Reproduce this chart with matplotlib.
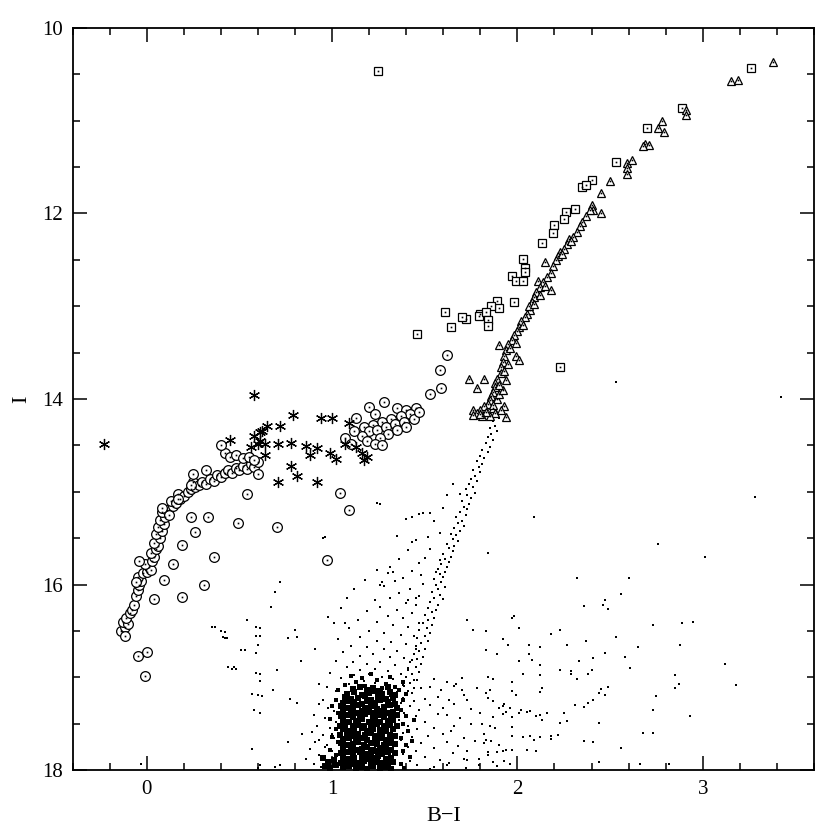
import matplotlib
matplotlib.use('Agg')
import matplotlib.pyplot as plt
from matplotlib.ticker import MultipleLocator

# Horizontal branch (circles)
hb_x = [-0.14, -0.12, -0.13, -0.10, -0.11, -0.09, -0.12, -0.08, -0.07, -0.06, -0.05, -0.04, -0.03, -0.05,
        -0.02, 0.00, 0.01, 0.02, -0.01, 0.03, 0.04, 0.02, 0.05, 0.06, 0.04, 0.07, 0.05, 0.08, 0.06, 0.09,
        0.07, 0.10, 0.08, 0.11, 0.12, 0.14, 0.13, 0.16, 0.18, 0.17, 0.20, 0.22, 0.24, 0.26, 0.25, 0.28,
        0.30, 0.32, 0.34, 0.36, 0.38, 0.40, 0.42, 0.44, 0.46, 0.48, 0.50, 0.52, 0.54, 0.56, 0.58, 0.60,
        0.42, 0.45, 0.48, 0.52, 0.55, 0.58,
        0.40, 0.25, 0.24, 0.32, 0.60, 0.54, 0.08, 0.17, 0.24, 0.33, 0.49, 0.26, 0.19, 0.36, 0.31, 0.19,
        0.04, -0.05, 0.00, -0.01, 0.70, 0.97, 1.04, 1.09, -0.04, -0.06, 0.14, 0.09,
        1.28, 1.20, 1.23, 1.13, 1.35, 1.40, 1.45, 1.42, 1.37, 1.32, 1.27, 1.22, 1.17, 1.20, 1.24, 1.29,
        1.34, 1.39, 1.44, 1.30, 1.26, 1.16, 1.19, 1.23, 1.27, 1.40, 1.35, 1.47, 1.12, 1.07, 1.10,
        1.62, 1.58, 1.59, 1.53]
hb_y = [16.50, 16.46, 16.40, 16.43, 16.36, 16.31, 16.55, 16.27, 16.22, 16.12, 16.06, 16.01, 15.96, 15.92,
        15.88, 15.86, 15.81, 15.84, 15.78, 15.75, 15.70, 15.66, 15.62, 15.58, 15.55, 15.50, 15.46, 15.42,
        15.38, 15.35, 15.30, 15.27, 15.22, 15.20, 15.25, 15.15, 15.10, 15.12, 15.08, 15.02, 15.05, 15.00,
        14.97, 14.95, 14.90, 14.93, 14.90, 14.92, 14.86, 14.88, 14.82, 14.84, 14.80, 14.77, 14.80, 14.74,
        14.77, 14.72, 14.75, 14.70, 14.73, 14.68,
        14.58, 14.62, 14.60, 14.64, 14.62, 14.66,
        14.50, 14.81, 14.93, 14.77, 14.81, 15.02, 15.17, 15.08, 15.27, 15.27, 15.34, 15.43, 15.57, 15.70,
        16.00, 16.13, 16.16, 16.77, 16.73, 16.99, 15.38, 15.74, 15.01, 15.20, 15.75, 15.97, 15.78, 15.95,
        14.03, 14.09, 14.16, 14.20, 14.10, 14.12, 14.10, 14.16, 14.18, 14.22, 14.25, 14.28, 14.30, 14.35,
        14.33, 14.30, 14.27, 14.25, 14.22, 14.38, 14.42, 14.40, 14.45, 14.48, 14.50, 14.30, 14.33, 14.14,
        14.35, 14.42, 14.48,
        13.53, 13.69, 13.88, 13.95]

# Variables (asterisks)
var_x = [-0.23, 0.58, 0.45, 0.62, 0.79, 0.94, 1.00, 0.65, 0.72, 0.61, 0.60, 0.64, 0.71, 0.78, 0.86, 0.92,
         0.88, 0.64, 0.99, 1.02, 0.78, 0.81, 0.71, 0.92, 1.09, 1.07, 1.13, 1.16, 1.19, 1.17, 0.58, 0.61, 0.56]
var_y = [14.48, 13.96, 14.44, 14.34, 14.17, 14.20, 14.20, 14.29, 14.29, 14.36, 14.48, 14.48, 14.48, 14.47,
         14.51, 14.53, 14.60, 14.60, 14.58, 14.65, 14.72, 14.83, 14.89, 14.89, 14.26, 14.48, 14.52, 14.58,
         14.62, 14.66, 14.40, 14.45, 14.52]

# AGB (squares)
agb_x = [1.25, 3.26, 2.89, 2.70, 2.53, 2.35, 2.40, 2.37, 2.31, 2.26, 2.25, 2.20, 2.19, 2.13, 2.03, 2.04,
         2.04, 1.97, 1.99, 2.03, 1.98, 1.89, 1.90, 1.86, 1.61, 1.72, 1.70, 1.80, 1.79, 1.83, 1.84, 1.84,
         1.64, 1.46, 2.23]
agb_y = [10.46, 10.43, 10.86, 11.08, 11.45, 11.71, 11.64, 11.69, 11.95, 11.98, 12.06, 12.12, 12.21, 12.32,
         12.49, 12.59, 12.63, 12.67, 12.73, 12.73, 12.95, 12.94, 13.02, 13.00, 13.06, 13.14, 13.12, 13.08,
         13.11, 13.06, 13.15, 13.21, 13.22, 13.30, 13.66]

# RGB (triangles)
rgb_x = [3.38, 3.15, 3.19, 2.91, 2.91, 2.78, 2.76, 2.79, 2.69, 2.71, 2.68, 2.59, 2.62, 2.59, 2.59, 2.50,
         2.45, 2.40, 2.41, 2.39, 2.45, 2.37, 2.35, 2.34, 2.32, 2.30, 2.28, 2.27, 2.25, 2.23, 2.22, 2.21,
         2.15, 2.19, 2.18, 2.16, 2.11, 2.14, 2.18, 2.12, 2.10, 2.09, 2.08, 2.07, 2.05, 2.04, 2.02, 2.01,
         2.00, 1.98, 1.97, 1.95, 1.90, 1.94, 1.93, 1.99, 2.01, 1.92, 1.91, 1.91, 1.89, 1.74, 1.82, 1.78,
         1.88, 1.88, 1.87, 1.86, 1.85, 1.93, 1.84, 1.82, 1.80, 1.76, 1.78, 1.76, 1.94, 1.87, 1.89, 1.90,
         1.92, 1.94, 1.88, 1.85, 2.06, 2.03, 1.99, 1.96, 1.95, 1.93, 1.90, 1.87, 1.83, 1.81, 1.91, 2.09,
         2.12, 2.15, 2.24, 2.29, 1.80]
rgb_y = [10.37, 10.57, 10.56, 10.88, 10.94, 11.00, 11.08, 11.12, 11.25, 11.26, 11.27, 11.46, 11.42, 11.51,
         11.57, 11.65, 11.78, 11.91, 11.96, 11.96, 12.00, 12.03, 12.09, 12.14, 12.20, 12.25, 12.28, 12.33,
         12.38, 12.41, 12.46, 12.50, 12.52, 12.57, 12.64, 12.68, 12.73, 12.74, 12.82, 12.79, 12.85, 12.90,
         12.95, 13.04, 13.08, 13.12, 13.16, 13.22, 13.27, 13.31, 13.36, 13.41, 13.42, 13.47, 13.54, 13.54,
         13.58, 13.60, 13.66, 13.72, 13.78, 13.78, 13.78, 13.88, 13.83, 13.87, 13.92, 13.97, 14.01, 14.08,
         14.05, 14.08, 14.12, 14.12, 14.15, 14.17, 14.19, 14.10, 14.00, 13.95, 13.90, 13.80, 14.15, 14.18,
         13.00, 13.20, 13.40, 13.45, 13.62, 13.70, 13.85, 14.06, 14.14, 14.18, 14.12, 12.98, 12.88, 12.78,
         12.44, 12.30, 14.16]

# Faint giant branch (dots)
tail_x = [1.90, 1.87, 1.88, 1.85, 1.89, 1.86, 1.84, 1.87, 1.83, 1.85, 1.81, 1.84, 1.80, 1.82, 1.78, 1.81,
          1.79, 1.76, 1.80, 1.77, 1.75, 1.78, 1.74, 1.76, 1.72, 1.77, 1.73, 1.75, 1.70, 1.74, 1.71, 1.73,
          1.69, 1.72, 1.67, 1.70, 1.68, 1.71, 1.66, 1.69, 1.64, 1.67, 1.65, 1.68, 1.62, 1.66, 1.63, 1.65,
          1.60, 1.64, 1.61, 1.63, 1.59, 1.62, 1.57, 1.61, 1.58, 1.60, 1.55, 1.59, 1.56, 1.61, 1.57, 1.54,
          1.58, 1.55, 1.60, 1.53, 1.57, 1.52, 1.56, 1.54, 1.50, 1.55, 1.52, 1.49, 1.54, 1.51, 1.47, 1.53,
          1.50, 1.46, 1.52, 1.48, 1.45, 1.50, 1.47, 1.44, 1.49, 1.46, 1.42, 1.48, 1.45, 1.41, 1.47, 1.43,
          1.40, 1.46, 1.42, 1.39, 1.44, 1.41,
          1.62, 1.60, 1.55, 1.58, 1.52, 1.53, 1.50, 1.58, 1.56, 1.48, 1.65, 1.69]
tail_y = [14.21, 14.24, 14.29, 14.31, 14.34, 14.38, 14.41, 14.44, 14.47, 14.52, 14.55, 14.57, 14.61, 14.64,
          14.67, 14.70, 14.73, 14.76, 14.79, 14.83, 14.86, 14.88, 14.92, 14.95, 14.97, 15.01, 15.04, 15.07,
          15.10, 15.13, 15.16, 15.19, 15.22, 15.25, 15.27, 15.31, 15.34, 15.37, 15.39, 15.42, 15.45, 15.47,
          15.51, 15.53, 15.56, 15.59, 15.61, 15.64, 15.67, 15.70, 15.72, 15.76, 15.78, 15.81, 15.83, 15.86,
          15.89, 15.92, 15.94, 15.97, 16.00, 16.03, 16.05, 16.08, 16.11, 16.14, 16.16, 16.19, 16.22, 16.25,
          16.27, 16.30, 16.33, 16.36, 16.38, 16.41, 16.44, 16.47, 16.49, 16.52, 16.55, 16.58, 16.61, 16.63,
          16.66, 16.69, 16.72, 16.75, 16.78, 16.80, 16.83, 16.86, 16.89, 16.92, 16.94, 16.97, 17.00, 17.03,
          17.06, 17.09, 17.12, 17.15,
          15.04, 15.18, 15.31, 15.44, 15.49, 15.62, 15.71, 15.74, 15.86, 15.90, 14.92, 15.02]

# Subgiant spread above the turnoff
sgb_x = [1.45, 1.41, 1.36, 1.47, 1.31, 1.43, 1.38, 1.34, 1.49, 1.28, 1.42, 1.36, 1.47, 1.31, 1.23, 1.40,
         1.45, 1.26, 1.35, 1.19, 1.43, 1.30, 1.38, 1.14, 1.24, 1.47, 1.33, 1.41, 1.09, 1.20, 1.28, 1.37,
         1.44, 1.15, 1.03, 1.24, 1.32, 1.40, 1.10, 1.19, 1.45, 1.28, 1.35, 1.06, 1.22, 1.15, 1.31, 1.39,
         1.43, 1.02, 1.11, 1.26, 1.19, 1.34, 1.08, 1.41, 1.23, 1.15, 1.30, 0.99, 1.37, 1.20, 1.12, 1.27,
         1.05, 1.33, 1.44, 1.17, 1.23, 1.09, 1.38, 1.30, 0.97, 1.14, 1.48, 1.26, 1.02, 1.35, 1.43, 1.20,
         1.08, 1.31, 1.38, 1.50, 0.95, 1.44, 1.12, 1.05, 1.18, 0.98, 1.08]
sgb_y = [15.52, 15.63, 15.72, 15.77, 15.81, 15.85, 15.93, 15.96, 15.99, 16.02, 16.05, 16.09, 16.12, 16.14,
         16.17, 16.20, 16.22, 16.24, 16.27, 16.29, 16.31, 16.34, 16.36, 16.38, 16.40, 16.42, 16.44, 16.46,
         16.47, 16.50, 16.52, 16.54, 16.56, 16.57, 16.59, 16.61, 16.62, 16.64, 16.66, 16.67, 16.69, 16.70,
         16.72, 16.73, 16.75, 16.77, 16.78, 16.79, 16.81, 16.82, 16.83, 16.84, 16.86, 16.87, 16.89, 16.90,
         16.91, 16.92, 16.93, 16.95, 16.96, 16.97, 16.98, 17.00, 17.01, 17.02, 17.03, 17.04, 17.06, 17.07,
         17.08, 17.09, 17.10, 17.11, 17.12, 17.13, 17.15, 17.16, 17.17, 17.18, 17.19, 17.20, 17.22, 17.23,
         17.24, 17.26, 16.05, 16.25, 15.95, 16.35, 16.15]

# Looser dots around the turnoff core
wing_x = [0.93, 0.98, 1.01, 0.90, 0.96, 1.02, 0.92, 0.99, 0.89, 0.95, 1.01, 0.91, 0.97, 0.88, 1.00, 0.93,
          0.86, 0.98, 0.90, 0.94,
          1.37, 1.42, 1.47, 1.53, 1.39, 1.45, 1.57, 1.36, 1.50, 1.41, 1.46, 1.55, 1.38, 1.43, 1.52, 1.60,
          1.37, 1.48, 1.41, 1.55, 1.45, 1.38, 1.50, 1.42, 1.58, 1.46, 1.39, 1.53,
          1.55, 1.62, 1.70, 1.53, 1.59, 1.66, 1.78, 1.57, 1.63, 1.71, 1.84, 1.60, 1.66, 1.75, 1.92, 1.62,
          1.69, 1.80, 1.66, 1.75, 1.88, 1.64, 1.71, 1.82, 1.97, 1.62, 1.68, 1.77, 1.90, 1.65, 1.73, 1.84,
          1.63, 1.71, 1.79, 1.93]
wing_y = [17.29, 17.33, 17.36, 17.41, 17.44, 17.48, 17.52, 17.55, 17.59, 17.62, 17.66, 17.70, 17.73, 17.77,
          17.80, 17.84, 17.88, 17.90, 17.94, 17.97,
          17.28, 17.31, 17.35, 17.30, 17.38, 17.42, 17.40, 17.46, 17.48, 17.52, 17.56, 17.55, 17.60, 17.64,
          17.63, 17.61, 17.68, 17.71, 17.75, 17.76, 17.80, 17.83, 17.86, 17.90, 17.89, 17.95, 17.98, 17.99,
          17.02, 17.05, 17.01, 17.11, 17.14, 17.09, 17.12, 17.21, 17.24, 17.19, 17.22, 17.33, 17.29, 17.34,
          17.31, 17.41, 17.44, 17.39, 17.52, 17.50, 17.55, 17.58, 17.65, 17.61, 17.63, 17.70, 17.74, 17.69,
          17.73, 17.82, 17.79, 17.84, 17.92, 17.88, 17.95, 17.90]

# Edge of the turnoff core (medium dots)
halo_x = [1.07, 1.13, 1.18, 1.24, 1.29, 1.34, 1.10, 1.21, 1.31, 1.38, 1.16, 1.27, 1.36, 1.40, 1.03,
          1.02, 1.00, 1.03, 0.99, 1.02, 1.00, 1.03, 0.99, 1.02, 1.01,
          1.38, 1.37, 1.40, 1.38, 1.41, 1.37, 1.40, 1.38, 1.42, 1.37, 1.44, 1.43, 1.39]
halo_y = [17.08, 17.05, 17.09, 17.03, 17.07, 17.10, 16.99, 16.96, 17.00, 17.05, 17.01, 17.12, 17.14, 17.18,
          17.14,
          17.24, 17.31, 17.38, 17.45, 17.56, 17.64, 17.70, 17.78, 17.84, 17.93,
          17.25, 17.35, 17.42, 17.50, 17.58, 17.66, 17.73, 17.80, 17.86, 17.93, 17.46, 17.69, 17.98]

# Dense turnoff core
core_x = [1.11, 1.15, 1.19, 1.22, 1.26, 1.30,
          1.08, 1.12, 1.16, 1.20, 1.23, 1.27, 1.31, 1.34,
          1.07, 1.10, 1.14, 1.18, 1.21, 1.25, 1.29, 1.33,
          1.06, 1.09, 1.12, 1.16, 1.19, 1.23, 1.26, 1.30, 1.34,
          1.05, 1.08, 1.11, 1.14, 1.18, 1.21, 1.24, 1.28, 1.31, 1.35,
          1.06, 1.10, 1.13, 1.16, 1.20, 1.23, 1.27, 1.30, 1.33,
          1.05, 1.08, 1.11, 1.15, 1.18, 1.22, 1.25, 1.28, 1.32, 1.35,
          1.06, 1.09, 1.13, 1.16, 1.20, 1.23, 1.26, 1.30, 1.33,
          1.04, 1.07, 1.11, 1.14, 1.17, 1.21, 1.24, 1.28, 1.31, 1.35,
          1.06, 1.09, 1.12, 1.16, 1.19, 1.22, 1.26, 1.29, 1.33,
          1.04, 1.08, 1.11, 1.14, 1.18, 1.21, 1.24, 1.27, 1.31, 1.34,
          1.06, 1.09, 1.13, 1.16, 1.19, 1.23, 1.26, 1.29, 1.32,
          1.05, 1.08, 1.11, 1.14, 1.17, 1.21, 1.24, 1.28, 1.31, 1.34,
          1.06, 1.10, 1.13, 1.16, 1.19, 1.22, 1.26, 1.29, 1.32,
          1.05, 1.08, 1.11, 1.15, 1.18, 1.21, 1.24, 1.27, 1.30, 1.34,
          1.06, 1.09, 1.12, 1.16, 1.19, 1.22, 1.25, 1.29, 1.32,
          1.05, 1.08, 1.11, 1.14, 1.17, 1.21, 1.24, 1.27, 1.30, 1.33,
          1.06, 1.09, 1.13, 1.16, 1.19, 1.22, 1.26, 1.29, 1.32, 0.96, 0.99, 1.02,
          0.95, 0.98, 1.01]
core_y = [17.13, 17.11, 17.14, 17.12, 17.15, 17.11,
          17.18, 17.16, 17.19, 17.17, 17.15, 17.18, 17.16, 17.19,
          17.21, 17.23, 17.22, 17.20, 17.24, 17.21, 17.23, 17.22,
          17.28, 17.26, 17.27, 17.29, 17.26, 17.28, 17.25, 17.27, 17.29,
          17.31, 17.33, 17.32, 17.30, 17.33, 17.31, 17.34, 17.32, 17.30, 17.33,
          17.37, 17.36, 17.38, 17.36, 17.37, 17.39, 17.36, 17.38, 17.37,
          17.42, 17.41, 17.43, 17.42, 17.40, 17.43, 17.41, 17.43, 17.42, 17.41,
          17.46, 17.48, 17.47, 17.45, 17.48, 17.46, 17.48, 17.47, 17.46,
          17.52, 17.51, 17.53, 17.51, 17.53, 17.52, 17.50, 17.53, 17.51, 17.52,
          17.56, 17.58, 17.57, 17.55, 17.58, 17.56, 17.57, 17.58, 17.56,
          17.62, 17.61, 17.63, 17.61, 17.62, 17.60, 17.63, 17.61, 17.62, 17.63,
          17.67, 17.66, 17.68, 17.66, 17.68, 17.67, 17.65, 17.68, 17.66,
          17.71, 17.73, 17.72, 17.70, 17.73, 17.71, 17.72, 17.73, 17.71, 17.72,
          17.77, 17.76, 17.78, 17.77, 17.75, 17.78, 17.76, 17.77, 17.78,
          17.82, 17.81, 17.83, 17.81, 17.83, 17.82, 17.80, 17.83, 17.81, 17.82,
          17.86, 17.88, 17.87, 17.86, 17.88, 17.87, 17.85, 17.88, 17.87,
          17.92, 17.91, 17.93, 17.92, 17.90, 17.93, 17.91, 17.92, 17.93, 17.91,
          17.97, 17.96, 17.98, 17.97, 17.99, 17.96, 17.98, 17.97, 17.99, 17.96, 17.98, 17.95,
          17.87, 17.91, 17.89]

# Scattered field stars
field_x = [2.53, 3.42, 3.28, 2.09, 2.76, 3.01, 1.24, 1.40, 1.47, 1.53, 0.95, 1.35, 1.43, 1.24,
           0.37, 0.41, 0.43, 0.54, 0.61, 0.61, 0.76, 0.80, 0.81, 0.69, 0.72, 0.91, 0.83, 0.60, 0.53,
           0.46, 0.48, 0.61, 0.70, 0.68, 0.60, 0.58, 0.61, 0.77, 0.81, 0.93, 0.84, 0.57, 0.76, 0.72,
           0.61, 0.93, 0.96, 1.00, 1.01, 1.07, 1.27, 1.26, 1.26, 1.43, 1.49, 0.96, 1.30, 1.33, 1.45,
           1.41, 1.84, 1.73, 1.76, 1.67, 1.70, 1.73, 1.73, 1.79,
           0.35, 0.40, 0.42, 0.42, 0.59, 0.59, 0.51, 0.59, 0.44, 0.47, 0.59, 0.61, 0.57, 0.62, 0.67,
           -0.03, 0.69, 0.60, 1.55, 1.62, 1.72,
           2.32, 2.60, 2.56, 2.36, 2.47, 2.46, 2.49, 1.98, 1.97, 2.01, 1.83, 2.18, 2.23, 2.73, 2.89,
           2.95, 1.92, 1.83, 1.95, 2.06, 2.12, 2.27, 2.37, 2.53, 2.65, 2.88, 1.89, 2.01, 2.08, 2.06,
           2.12, 2.33, 2.41, 2.47, 2.58, 2.61, 3.12, 1.84, 1.87, 1.97, 2.03, 2.12, 2.23, 2.29, 2.29,
           2.32, 2.38, 2.40, 2.85, 2.87, 2.85, 3.18, 1.83, 1.85, 1.97, 1.99, 2.13, 2.12, 2.44, 2.47,
           2.49, 2.45, 2.75, 1.87, 1.90, 1.93, 1.96, 1.94, 1.92, 1.87, 1.97, 2.01, 2.02, 2.05, 2.07,
           2.10, 2.12, 2.13, 2.16, 2.25, 2.27, 2.23, 2.31, 2.36, 2.38, 2.41, 2.44, 2.73, 2.93, 1.81,
           1.85, 1.97, 2.03, 2.07, 2.12, 2.09, 2.18, 2.22, 2.18, 2.36, 2.41, 2.68, 2.73, 2.56, 1.83,
           1.82, 1.86, 1.84, 1.89, 1.92, 1.94, 1.97, 2.05, 2.10, 1.87, 1.96, 2.44, 2.66, 2.82, 1.89]
field_y = [13.82, 13.98, 15.06, 15.27, 15.56, 15.70, 15.12, 15.29, 15.24, 15.23, 15.50, 15.48, 15.54,
           15.84,
           16.46, 16.57, 16.58, 16.38, 16.47, 16.56, 16.58, 16.49, 16.57, 16.08, 15.97, 16.69, 16.82,
           16.65, 16.71, 16.91, 16.91, 16.96, 16.92, 17.14, 17.19, 17.35, 17.39, 17.23, 17.28, 17.07,
           17.61, 17.77, 17.70, 17.95, 17.95, 17.68, 17.75, 17.61, 16.41, 16.42, 15.97, 16.01, 15.13,
           15.27, 15.23, 15.49, 15.88, 15.86, 16.15, 16.17, 15.66, 16.38, 16.49, 17.07, 17.14, 17.25,
           17.89, 17.88,
           16.46, 16.50, 16.51, 16.58, 16.46, 16.55, 16.71, 16.74, 16.89, 16.89, 16.95, 17.04, 17.18,
           17.20, 16.24,
           17.94, 17.97, 17.98, 17.97, 17.95, 17.98,
           15.93, 15.93, 16.10, 16.23, 16.17, 16.22, 16.26, 16.34, 16.36, 16.47, 16.50, 16.53, 16.49,
           16.44, 16.42, 16.40, 16.59, 16.71, 16.65, 16.65, 16.67, 16.65, 16.61, 16.57, 16.67, 16.65,
           16.75, 16.82, 16.81, 16.75, 16.87, 16.82, 16.79, 16.74, 16.78, 16.90, 16.86, 17.00, 17.02,
           17.05, 16.97, 16.98, 16.92, 16.96, 16.93, 17.02, 16.97, 16.92, 16.98, 17.07, 17.12, 17.08,
           17.17, 17.14, 17.15, 17.19, 17.12, 17.16, 17.17, 17.19, 17.10, 17.13, 17.20, 17.26, 17.33,
           17.29, 17.33, 17.37, 17.40, 17.43, 17.43, 17.38, 17.35, 17.37, 17.36, 17.42, 17.41, 17.46,
           17.39, 17.38, 17.47, 17.49, 17.30, 17.32, 17.28, 17.25, 17.49, 17.35, 17.42, 17.50, 17.53,
           17.54, 17.64, 17.63, 17.64, 17.68, 17.67, 17.62, 17.63, 17.69, 17.70, 17.60, 17.60, 17.76,
           17.68, 17.71, 17.69, 17.81, 17.81, 17.80, 17.78, 17.78, 17.78, 17.80, 17.91, 17.94, 17.91,
           17.93, 17.94, 17.96]

plt.rcParams['font.family'] = ['Liberation Serif', 'DejaVu Serif']

fig = plt.figure(figsize=(8.3, 8.35), dpi=100)
ax = fig.add_axes([0.0876, 0.0778, 0.893, 0.8887])

dot = dict(linestyle='none', marker='s', color='black', markeredgewidth=0)

# etoiles du champ (points)
ax.plot(tail_x, tail_y, markersize=2.1, **dot)
ax.plot(sgb_x, sgb_y, markersize=1.9, **dot)
ax.plot(wing_x, wing_y, markersize=1.9, **dot)
ax.plot(field_x, field_y, markersize=1.6, **dot)
ax.plot(halo_x, halo_y, markersize=3.0, **dot)
ax.plot(core_x, core_y, markersize=4.0, **dot)

# symboles ouverts avec un point au centre
sym = dict(linestyle='none', markerfacecolor='white', markeredgecolor='black', markeredgewidth=0.9)
ax.plot(hb_x, hb_y, marker='o', markersize=7.0, **sym)
ax.plot(agb_x, agb_y, marker='s', markersize=5.6, **sym)
ax.plot(rgb_x, rgb_y, marker='^', markersize=6.2, **sym)
for xs, ys in [(hb_x, hb_y), (agb_x, agb_y), (rgb_x, rgb_y)]:
    ax.plot(xs, ys, markersize=1.2, **dot)
ax.plot(var_x, var_y, linestyle='none', marker=(6, 2, 0), markersize=8,
        color='black', markeredgewidth=0.9)

ax.set_xlim(-0.4, 3.6)
ax.set_ylim(18, 10)
ax.set_xticks([0, 1, 2, 3])
ax.set_yticks([10, 12, 14, 16, 18])
ax.xaxis.set_minor_locator(MultipleLocator(0.2))
ax.yaxis.set_minor_locator(MultipleLocator(0.5))
ax.tick_params(which='both', direction='in', top=True, right=True, width=1.1, labelsize=15)
ax.tick_params(which='major', length=10, pad=7)
ax.tick_params(which='minor', length=5)
for s in ax.spines.values():
    s.set_linewidth(1.3)

ax.set_xlabel('B\u2212I', fontsize=16, labelpad=6)
ax.set_ylabel('I', fontsize=16, labelpad=8)

fig.savefig('out.png', dpi=100)
